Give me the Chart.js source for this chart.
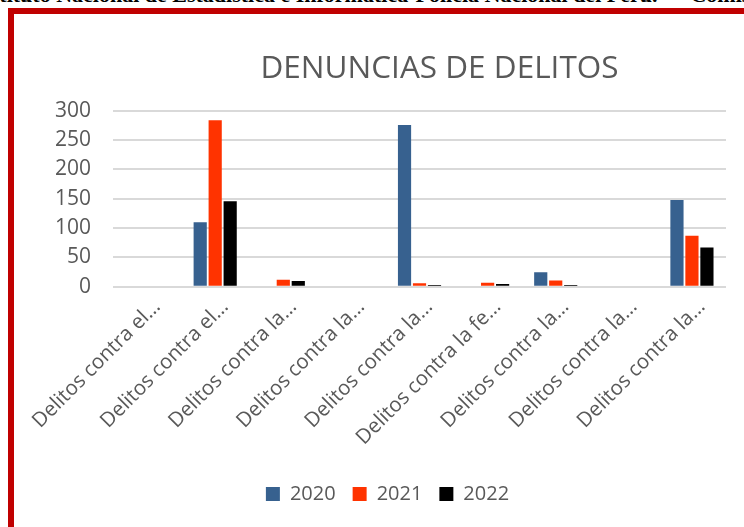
<!DOCTYPE html>
<html>
<head>
<meta charset="utf-8">
<script src="https://cdn.jsdelivr.net/npm/chart.js@4.4.0/dist/chart.umd.min.js"></script>
<style>
    html, body { margin: 0; padding: 0; background: #fff; }
    body { width: 744px; height: 527px; position: relative; overflow: hidden; }
    #source {
        position: absolute; left: -30px; top: -18px; line-height: 22px;
        font: bold 22px "Liberation Serif", serif; color: #000;
        white-space: nowrap;
    }
    #frame {
        position: absolute; left: 8px; top: 8px; width: 760px; height: 540px;
        border-left: 6px solid #c00000; border-top: 6px solid #c00000;
    }
    #wrap { position: absolute; left: 14px; top: 14px; width: 730px; height: 513px; }
</style>
</head>
<body>
<div id="source">Instituto Nacional de Estadística e Informática-Policía Nacional del Perú.&nbsp;&nbsp;&nbsp;“ Comisarías</div>
<div id="frame"></div>
<div id="wrap"><canvas id="chart"></canvas></div>
<script>
// categorias (etiquetas recortadas como en el grafico)
var categories = [
    'Delitos contra el…',
    'Delitos contra el…',
    'Delitos contra la…',
    'Delitos contra la…',
    'Delitos contra la…',
    'Delitos contra la fe…',
    'Delitos contra la…',
    'Delitos contra la…',
    'Delitos contra la…'
];
var years = ['2020', '2021', '2022'];
var values2020 = [0, 110, 0, 0, 276, 0, 25, 2, 148];
var values2021 = [0, 284, 12, 0, 6, 7, 11, 0, 87];
var values2022 = [0, 146, 10, 0, 3, 5, 3, 0, 67];
var yTicks = [0, 50, 100, 150, 200, 250, 300];

var colors = ['#37618f', '#ff3300', '#000000'];
var grey = '#595959';

// el titulo y la leyenda de Excel no quedan centrados en el lienzo
var shiftBlocks = {
    id: 'shiftBlocks',
    afterLayout: function (chart) {
        chart.titleBlock.left += 60;
        chart.titleBlock.right += 60;
        chart.legend.left += 8;
        chart.legend.right += 8;
    }
};

var ctx = document.getElementById('chart');
var myChart = new Chart(ctx, {
    type: 'bar',
    data: {
        labels: categories,
        datasets: [
            { label: years[0], data: values2020, backgroundColor: colors[0] },
            { label: years[1], data: values2021, backgroundColor: colors[1] },
            { label: years[2], data: values2022, backgroundColor: colors[2] }
        ]
    },
    plugins: [shiftBlocks],
    options: {
        responsive: true,
        maintainAspectRatio: false,
        animation: false,
        categoryPercentage: 0.66,
        barPercentage: 0.88,
        layout: {
            padding: { top: 26, left: 19, right: 18, bottom: 13 }
        },
        plugins: {
            title: {
                display: true,
                text: 'DENUNCIAS DE DELITOS',
                color: grey,
                font: { family: 'Open Sans', size: 31.5, weight: 'normal' },
                padding: { top: 10, bottom: 23 }
            },
            legend: {
                position: 'bottom',
                labels: {
                    color: grey,
                    boxWidth: 14,
                    boxHeight: 14,
                    padding: 17,
                    font: { family: 'Open Sans', size: 20 }
                }
            },
            tooltip: { enabled: false }
        },
        scales: {
            x: {
                grid: { display: false },
                border: { display: false },
                afterFit: function (axis) {
                    axis.height += 17;
                },
                ticks: {
                    color: grey,
                    font: { family: 'Open Sans', size: 20.5 },
                    minRotation: 45,
                    maxRotation: 45,
                    autoSkip: false,
                    padding: 0,
                    labelOffset: 10
                }
            },
            y: {
                min: 0,
                max: 300,
                afterBuildTicks: function (axis) {
                    axis.ticks = yTicks.map(function (v) { return { value: v }; });
                },
                grid: { color: '#d9d9d9', lineWidth: 2, drawTicks: false },
                border: { display: false },
                ticks: {
                    color: grey,
                    font: { family: 'Open Sans', size: 21 },
                    padding: 22,
                    autoSkip: false
                }
            }
        }
    }
});
</script>
</body>
</html>
